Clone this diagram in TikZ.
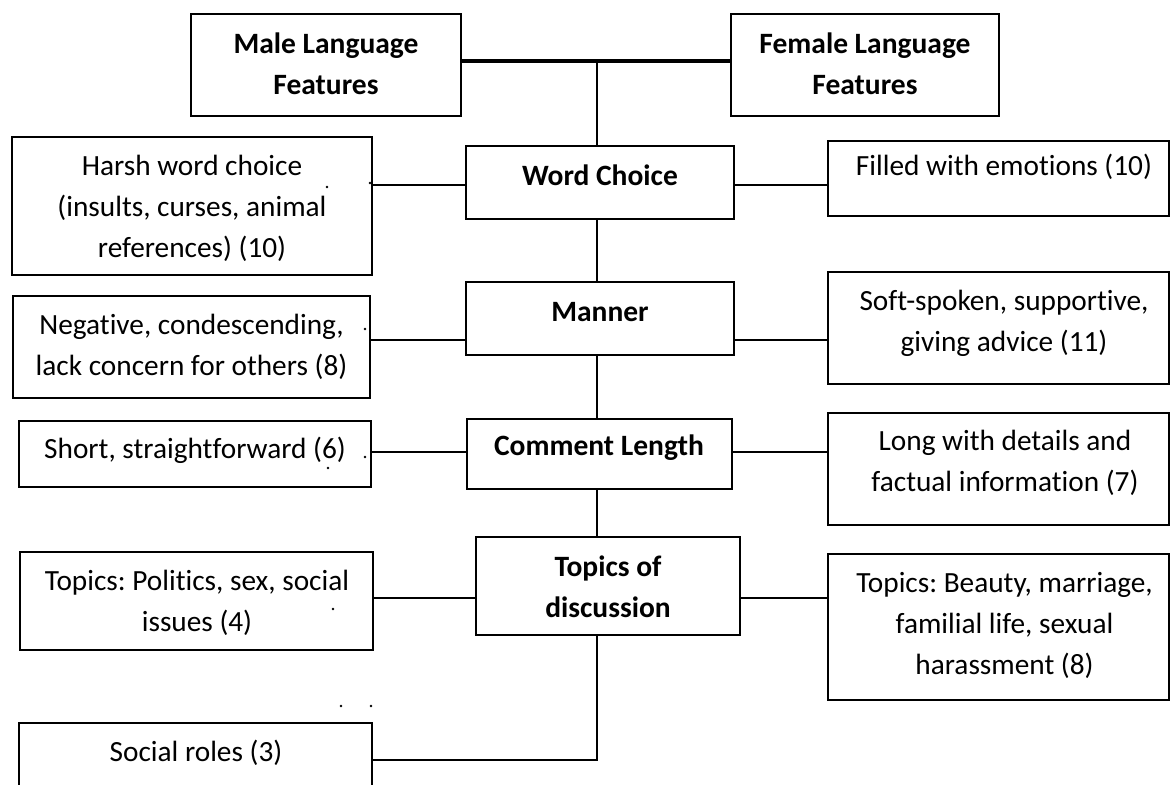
\documentclass[tikz,border=0pt]{standalone}
\usepackage{fontspec}
\setmainfont[Ligatures=NoCommon]{Carlito}
\usepackage{tikz}
\frenchspacing

\begin{document}
\begin{tikzpicture}[x=1pt,y=1pt,yscale=-1,xscale=1,
  box/.style={draw,line width=1.5pt,inner sep=0pt},
  txt/.style={align=center,inner sep=0pt,font=\fontsize{29.3}{41}\selectfont},
  btxt/.style={txt,font=\fontsize{29.5}{41}\selectfont\bfseries},
  link/.style={line width=1.5pt},
  speck/.style={circle,fill,inner sep=0pt,minimum size=2.6pt}]
\useasboundingbox (0,0) rectangle (1171,785); %picture is 1171 wide, 785 high
\clip (0,0) rectangle (1171,785);

%Rows of the connectors
\coordinate (r0) at (0,61);
\coordinate (r1) at (0,185);
\coordinate (r2) at (0,340);
\coordinate (r3) at (0,452);
\coordinate (r4) at (0,598);
\coordinate (r5) at (0,760);
\coordinate (trunk) at (597,61);

%Shape: Rectangle [top]
\node[box,minimum width=270,minimum height=102] (male) at (326,65) {};
\node[box,minimum width=268,minimum height=102] (female) at (865,65) {};
%Shape: Rectangle [middle column]
\node[box,minimum width=268,minimum height=73] (wc) at (600,182.5) {};
\node[box,minimum width=268,minimum height=73] (manner) at (600,318.5) {};
\node[box,minimum width=265,minimum height=70] (cl) at (599.5,454) {};
\node[box,minimum width=264,minimum height=98] (tod) at (608,586) {};
%Shape: Rectangle [left column]
\node[box,minimum width=360,minimum height=138] (harsh) at (192,206) {};
\node[box,minimum width=357,minimum height=102] (neg) at (191.5,347) {};
\node[box,minimum width=352,minimum height=66] (short) at (195,454) {};
\node[box,minimum width=353,minimum height=98] (pol) at (196.5,601) {};
\node[box,minimum width=353,minimum height=100] (social) at (195.5,773) {};
%Shape: Rectangle [right column]
\node[box,minimum width=341,minimum height=75] (filled) at (998.5,178.5) {};
\node[box,minimum width=341,minimum height=112] (soft) at (998.5,328) {};
\node[box,minimum width=341,minimum height=112] (long) at (998.5,469) {};
\node[box,minimum width=341,minimum height=146] (beauty) at (998.5,627) {};

%Straight Lines [thick bar]
\draw[line width=4.5pt] (male.east |- r0) -- (female.west |- r0);
%Straight Lines [trunk]
\draw[link] (trunk) -- (trunk |- wc.north);
\draw[link] (trunk |- wc.south) -- (trunk |- manner.north);
\draw[link] (trunk |- manner.south) -- (trunk |- cl.north);
\draw[link] (trunk |- cl.south) -- (trunk |- tod.north);
\draw[link] (trunk |- tod.south) -- (trunk |- r5) -- (social.east |- r5);
%Straight Lines [branches]
\draw[link] (harsh.east |- r1) -- (wc.west |- r1);
\draw[link] (wc.east |- r1) -- (filled.west |- r1);
\draw[link] (neg.east |- r2) -- (manner.west |- r2);
\draw[link] (manner.east |- r2) -- (soft.west |- r2);
\draw[link] (short.east |- r3) -- (cl.west |- r3);
\draw[link] (cl.east |- r3) -- (long.west |- r3);
\draw[link] (pol.east |- r4) -- (tod.west |- r4);
\draw[link] (tod.east |- r4) -- (beauty.west |- r4);

% Text Node
\node[btxt] (male-t) at (326,64) {Male Language\\Features};
\node[btxt] (female-t) at (865,64) {Female Language\\Features};
\node[btxt] (wc-t) at (600,175) {Word Choice};
\node[btxt] (manner-t) at (600,312) {Manner};
\node[btxt] (cl-t) at (599,448) {Comment Length};
\node[btxt] (tod-t) at (608,587) {Topics of\\discussion};
% Text Node
\node[txt] (harsh-t) at (192,208) {Harsh word choice\\(insults, curses, animal\\references) (10)};
\node[txt] (neg-t) at (191.5,347) {Negative, condescending,\\lack concern for others (8)};
\node[txt] (short-t) at (195,450) {Short, straightforward (6)};
\node[txt] (pol-t) at (197,603) {Topics: Politics, sex, social\\issues (4)};
\node[txt] (social-t) at (196,753) {Social roles (3)};
% Text Node
\node[txt] (filled-t) at (1004,167) {Filled with emotions (10)};
\node[txt] (soft-t) at (1004,323) {Soft-spoken, supportive,\\giving advice (11)};
\node[txt] (long-t) at (1005,462.5) {Long with details and\\factual information (7)};
\node[txt] (beauty-t) at (1004.5,625) {Topics: Beauty, marriage,\\familial life, sexual\\harassment (8)};

%Stray marks
\node[speck] (s1) at (327,187) {};
\node[speck] (s2) at (370,183) {};
\node[speck] (s3) at (365,329) {};
\node[speck] (s4) at (365,457) {};
\node[speck] (s5) at (328,468) {};
\node[speck] (s6) at (333,609) {};
\node[speck] (s7) at (341,706) {};
\node[speck] (s8) at (371,706) {};

\end{tikzpicture}
\end{document}
